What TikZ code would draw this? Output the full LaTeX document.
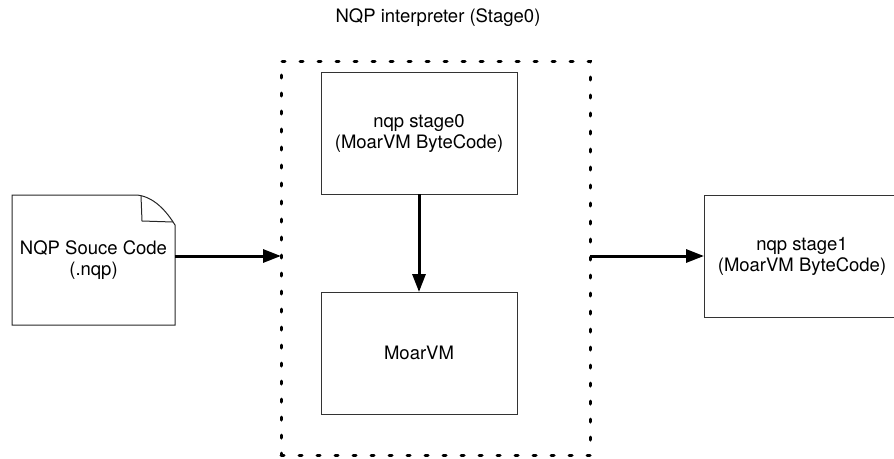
\documentclass[tikz,border=0pt]{standalone}
\usepackage{fontspec}
\setmainfont{TeX Gyre Heros}
\usetikzlibrary{arrows.meta,calc}
\begin{document}
\begin{tikzpicture}[x=1pt,y=-1pt,
  every node/.style={font=\fontsize{18.5}{21}\selectfont, align=center, inner sep=0pt, outer sep=0pt},
  boxnode/.style={draw=black!80, line width=1pt, rectangle},
  docline/.style={draw=black!85, line width=1pt},
  dotframe/.style={draw=black, line width=3pt, line cap=round, dash pattern=on 3pt off 15pt},
  bigarrow/.style={draw=black, line width=3pt, -{Triangle[length=18pt,width=13pt]}}
]
\useasboundingbox (0,0) rectangle (894,458);
% title
\node (title) at (438,18) {NQP interpreter (Stage0)};
% interpreter frame
\node[dotframe, minimum width=309pt, minimum height=394pt] (interp) at (435.5,258) {};
% inner boxes
\node[boxnode, minimum width=196pt, minimum height=122pt] (s0) at (419,133) {nqp stage0\\(MoarVM ByteCode)};
\node[boxnode, minimum width=196pt, minimum height=122pt] (vm) at (419,353) {MoarVM};
% output box (runs past the right edge)
\node[boxnode, minimum width=196pt, minimum height=122pt] (out) at (802,256) {nqp stage1\\(MoarVM ByteCode)};
% source document
\node[minimum width=163pt, minimum height=130pt] (src) at (93.5,260) {NQP Souce Code\\(.nqp)};
\path[docline] (src.north west) -- ($(src.north west)+(125,0)$)
  .. controls ($(src.north west)+(145,2)$) and ($(src.north east)+(-5,22)$) .. ($(src.north east)+(0,30)$)
  -- (src.south east) -- (src.south west) -- cycle;
\path[docline] ($(src.north west)+(129,1)$) -- ($(src.north west)+(130,26)$) -- ($(src.north east)+(-2,27)$);
% connectors
\draw[bigarrow] (src.east |- out.west) -- (interp.west |- out.west);
\draw[bigarrow] (s0.south) -- (vm.north);
\draw[bigarrow] (interp.east |- out.west) -- (out.west);
\end{tikzpicture}
\end{document}
